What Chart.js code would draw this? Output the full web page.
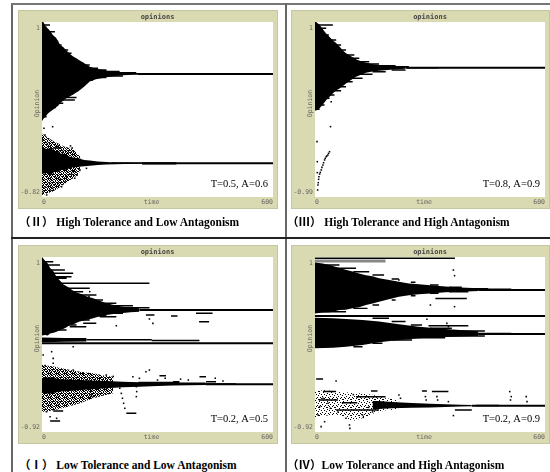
<!DOCTYPE html>
<html>
<head>
<meta charset="utf-8">
<script src="https://cdn.jsdelivr.net/npm/chart.js@4.4.1/dist/chart.umd.min.js"></script>
<style>
  body { margin: 0; background: #fff; width: 550px; height: 472px; position: relative; overflow: hidden; }
  .rule { position: absolute; background: #666; }
  canvas.plot { position: absolute; background: #dadab2; outline: 1px solid #c6c6a2; }
  .cap { position: absolute; font: bold 11.5px "Times New Roman", "Liberation Serif", "Noto Sans CJK SC", serif; white-space: nowrap; color: #000; line-height: 14px; }
</style>
</head>
<body>
<div class="rule" style="left:11px;top:3px;width:2px;height:469px;"></div>
<div class="rule" style="left:11px;top:3px;width:539px;height:2px;background:#777"></div>
<div class="rule" style="left:285px;top:3px;width:2px;height:469px;"></div>
<div class="rule" style="left:11px;top:237px;width:539px;height:2px;background:#222"></div>

<canvas class="plot" id="p2" width="258" height="197" style="left:19px;top:11px"></canvas>
<canvas class="plot" id="p3" width="257" height="197" style="left:292px;top:11px"></canvas>
<canvas class="plot" id="p1" width="258" height="197" style="left:19px;top:246px"></canvas>
<canvas class="plot" id="p4" width="257" height="197" style="left:292px;top:246px"></canvas>

<div class="cap" style="left:19px;top:215px">（Ⅱ） High Tolerance and Low Antagonism</div>
<div class="cap" style="left:287px;top:215px">（Ⅲ） High Tolerance and High Antagonism</div>
<div class="cap" style="left:19px;top:458px">（Ⅰ） Low Tolerance and Low Antagonism</div>
<div class="cap" style="left:287px;top:458px">（Ⅳ）Low Tolerance and High Antagonism</div>

<script>
// time axis shared by all four plots
const timeRange = [0, 600];

// ---------- (II) T=0.5, A=0.6 ----------
const iiRange = [-0.82, 1];
const iiNote = 'T=0.5, A=0.6';
const iiUpT  = [0, 5, 10, 16, 22, 29, 36, 42, 47, 55, 64, 72, 81, 90, 98, 110, 124, 140, 167, 190, 210, 248];
const iiUpHi = [1.02, 0.99, 0.95, 0.93, 0.90, 0.86, 0.84, 0.80, 0.76, 0.74, 0.70, 0.67, 0.64, 0.62, 0.60, 0.57, 0.535, 0.515, 0.494, 0.483, 0.476, 0.465];
const iiUpLo = [-0.03, 0.0, 0.02, 0.05, 0.07, 0.09, 0.11, 0.13, 0.155, 0.18, 0.21, 0.225, 0.245, 0.27, 0.29, 0.33, 0.38, 0.405, 0.425, 0.438, 0.445, 0.453];
const iiLoT  = [0, 12, 22, 32, 39, 50, 60, 70, 81, 95, 110, 124, 145, 167, 190, 215, 260];
const iiLoHi = [-0.30, -0.32, -0.31, -0.34, -0.35, -0.37, -0.37, -0.40, -0.41, -0.42, -0.435, -0.44, -0.45, -0.455, -0.46, -0.462, -0.465];
const iiLoLo = [-0.58, -0.57, -0.59, -0.56, -0.56, -0.54, -0.54, -0.52, -0.51, -0.505, -0.50, -0.495, -0.488, -0.483, -0.479, -0.477, -0.474];
const iiSpT  = [0, 15, 30, 45, 60, 75, 90, 100];
const iiSpHi = [-0.16, -0.20, -0.24, -0.27, -0.30, -0.31, -0.36, -0.40];
const iiSpLo = [-0.80, -0.78, -0.76, -0.72, -0.68, -0.64, -0.60, -0.55];
const iiLineStart = [248, 260];
const iiLineV = [0.459, -0.470];
const iiDashT0 = [0, 0, 0, 0, 0, 0, 0, 0, 0, 20, 30, 50, 80, 100, 120, 150, 0, 0, 0, 0, 0, 0, 0, 40, 60, 70, 80, 100, 120, 29, 22, 60, 180, 260];
const iiDashT1 = [20.7, 12.1, 33.6, 29.3, 42.2, 50.9, 68.1, 76.7, 89.7, 106.9, 124.1, 145.7, 167.2, 201.7, 244.8, 331, 12.1, 16.4, 36.2, 55.2, 85.3, 89.7, 81, 94, 102.6, 106.9, 132.8, 167.2, 210.3, 51, 45, 100, 349, 349];
const iiDashV  = [0.969, 0.945, 0.899, 0.854, 0.796, 0.761, 0.709, 0.674, 0.612, 0.577, 0.553, 0.518, 0.501, 0.484, 0.473, 0.461, 0.015, 0.067, 0.112, 0.154, 0.189, 0.216, 0.251, 0.286, 0.327, 0.362, 0.397, 0.424, 0.438, -0.31, -0.35, -0.43, -0.466, -0.474];
const iiDotT = [5.2, 27.6, 7.8, 1.7, 13.8, 37.9, 74.1, 78.5, 81.0, 68.1, 55.2, 46.6, 5.2, 20.7, 10.3, 1.7, 16.4, 33.6, 48.3, 63.8, 76.7, 3.4, 19.0, 31.0, 42.2, 59.5, 7.8, 20.7, 1.7, 12.1, 27.6, 50.9, 70.7, 81.0, 89.7, 98.3, 106.9, 115.5, 91.4, 85.3];
const iiDotV = [-0.106, -0.089, -0.175, -0.227, -0.269, -0.289, -0.289, -0.310, -0.338, -0.366, -0.348, -0.383, -0.400, -0.435, -0.505, -0.557, -0.574, -0.609, -0.636, -0.609, -0.581, -0.643, -0.671, -0.695, -0.678, -0.661, -0.713, -0.747, -0.764, -0.799, -0.730, -0.713, -0.522, -0.557, -0.505, -0.539, -0.487, -0.522, -0.591, -0.626];

// ---------- (III) T=0.8, A=0.9 ----------
const iiiRange = [-0.99, 1];
const iiiNote = 'T=0.8, A=0.9';
const iiiT  = [0, 6, 12, 20, 29, 38, 47, 55, 64, 72, 81, 94, 107, 120, 133, 150, 167, 190, 210, 236];
const iiiHi = [1.01, 0.99, 0.97, 0.92, 0.87, 0.83, 0.79, 0.76, 0.72, 0.68, 0.645, 0.61, 0.575, 0.555, 0.537, 0.52, 0.511, 0.503, 0.496, 0.492];
const iiiLo = [-0.01, 0.0, 0.02, 0.06, 0.11, 0.15, 0.19, 0.22, 0.245, 0.27, 0.30, 0.34, 0.378, 0.40, 0.424, 0.436, 0.446, 0.455, 0.462, 0.469];
const iiiLineStart = [236];
const iiiLineV = [0.481];
const iiiDashT0 = [0, 0, 0, 0, 0, 20, 30, 50, 80, 100, 130, 180, 240, 0, 0, 10, 20, 40, 50, 60, 80, 110, 150, 200];
const iiiDashT1 = [46.6, 29.3, 36.2, 55.2, 68.1, 81, 102.6, 115.5, 141.4, 167.2, 210.3, 244.8, 322, 12.1, 25, 38, 50.9, 68.1, 81, 98.3, 124.1, 150, 184.5, 236.2];
const iiiDashV  = [0.966, 0.928, 0.852, 0.795, 0.738, 0.681, 0.625, 0.587, 0.549, 0.522, 0.503, 0.492, 0.481, 0.007, 0.056, 0.132, 0.17, 0.219, 0.264, 0.321, 0.359, 0.405, 0.435, 0.454];
const iiiDotT = [42.2, 40.5, 5.2, 6.0, 37.9, 35.3, 33.6, 31.0, 29.3, 26.7, 25.0, 22.4, 20.7, 18.1, 16.4, 13.8, 12.1, 10.3, 9.5, 8.6, 7.8, 6.9, 6.0];
const iiiDotV = [0.094, -0.19, -0.36, -0.588, -0.475, -0.494, -0.513, -0.524, -0.531, -0.55, -0.569, -0.60, -0.626, -0.653, -0.683, -0.71, -0.729, -0.76, -0.789, -0.827, -0.854, -0.91, -0.713];

// ---------- (I) T=0.2, A=0.5 ----------
const iRange = [-0.92, 1];
const iNote = 'T=0.2, A=0.5';
const iUpT  = [0, 8, 15, 21, 30, 38, 47, 55, 64, 72, 81, 90, 98, 115, 133, 150, 167, 190, 210, 230, 253];
const iUpHi = [1.0, 0.96, 0.93, 0.88, 0.84, 0.78, 0.74, 0.70, 0.68, 0.656, 0.63, 0.61, 0.60, 0.57, 0.547, 0.52, 0.492, 0.47, 0.455, 0.445, 0.437];
const iUpLo = [0.14, 0.145, 0.14, 0.16, 0.17, 0.18, 0.20, 0.21, 0.23, 0.254, 0.26, 0.28, 0.291, 0.31, 0.327, 0.35, 0.364, 0.377, 0.386, 0.393, 0.40];
const iBarT  = [0, 60, 116];
const iBarHi = [0.118, 0.112, 0.11];
const iBarLo = [0.066, 0.07, 0.072];
const iSpT  = [0, 30, 60, 98, 133, 160, 185];
const iSpHi = [-0.185, -0.20, -0.23, -0.258, -0.276, -0.30, -0.313];
const iSpLo = [-0.70, -0.68, -0.65, -0.605, -0.55, -0.52, -0.496];
const iLoT  = [0, 20, 47, 70, 98, 130, 167, 210, 253, 300, 340, 425];
const iLoHi = [-0.33, -0.32, -0.34, -0.345, -0.35, -0.355, -0.36, -0.37, -0.375, -0.38, -0.386, -0.39];
const iLoLo = [-0.49, -0.50, -0.477, -0.47, -0.459, -0.45, -0.44, -0.43, -0.423, -0.415, -0.411, -0.404];
const iLineStart = [253, 0, 425];
const iLineV = [0.418, 0.053, -0.397];
const iDashT0 = [0, 0, 0, 0, 116, 285, 150, 270, 335, 400, 408, 107, 72, 305, 340, 409, 426, 219, 21, 29, 0, 0, 0, 0, 60, 80, 100, 120, 150, 200, 150, 100, 80, 50, 40, 250, 300, 420];
const iDashT1 = [81, 279, 124, 64, 285, 409, 193, 292, 352, 443, 434, 141, 115, 322, 357, 426, 452, 245, 47, 55, 29.3, 46.6, 59.5, 76.7, 106.9, 141.4, 158.6, 193.1, 236.2, 279.3, 210.3, 167.2, 124.1, 89.7, 63.8, 340, 425, 504];
const iDashV  = [0.821, 0.711, 0.656, 0.766, 0.092, 0.085, 0.345, 0.364, 0.353, 0.382, 0.29, 0.272, 0.236, -0.302, -0.368, -0.313, -0.368, -0.715, -0.799, -0.69, 0.949, 0.912, 0.857, 0.784, 0.62, 0.583, 0.528, 0.492, 0.466, 0.444, 0.382, 0.356, 0.309, 0.254, 0.199, -0.378, -0.386, -0.393];
const iDotT = [193, 288, 279, 124, 122, 81, 25, 29, 124, 126, 128, 124, 133, 202, 206, 209, 212, 215, 245, 246, 245, 81, 107, 167, 236, 270, 279, 253, 3, 8, 29, 12, 21, 38, 150, 185, 300, 320, 360, 380, 450, 470];
const iDotV = [0.246, 0.272, 0.32, 0.62, 0.565, 0.016, -0.039, -0.112, -0.44, -0.477, -0.514, -0.55, -0.53, -0.44, -0.496, -0.55, -0.605, -0.66, -0.423, -0.477, -0.532, -0.24, -0.276, -0.295, -0.313, -0.258, -0.24, -0.331, -0.075, -0.19, -0.166, -0.697, -0.752, -0.77, -0.33, -0.31, -0.35, -0.33, -0.34, -0.35, -0.33, -0.36];

// ---------- (IV) T=0.2, A=0.9 ----------
const ivRange = [-0.92, 1];
const ivNote = 'T=0.2, A=0.9';
const ivAT  = [0, 20, 40, 64, 80, 98, 115, 133, 150, 167, 190, 219, 245, 271, 300, 340, 380, 426];
const ivAHi = [0.94, 0.93, 0.91, 0.88, 0.86, 0.84, 0.82, 0.80, 0.79, 0.766, 0.75, 0.729, 0.71, 0.70, 0.69, 0.675, 0.665, 0.656];
const ivALo = [0.38, 0.39, 0.393, 0.418, 0.42, 0.437, 0.45, 0.473, 0.49, 0.51, 0.535, 0.565, 0.58, 0.59, 0.60, 0.612, 0.62, 0.627];
const ivBT  = [0, 47, 81, 124, 167, 219, 271, 340, 426];
const ivBHi = [0.334, 0.327, 0.32, 0.309, 0.291, 0.261, 0.236, 0.21, 0.185];
const ivBLo = [-0.002, 0.005, 0.016, 0.034, 0.064, 0.089, 0.108, 0.122, 0.137];
const ivSpT  = [0, 30, 60, 98, 130, 150, 185, 220];
const ivSpHi = [-0.47, -0.46, -0.48, -0.49, -0.50, -0.51, -0.55, -0.57];
const ivSpLo = [-0.76, -0.74, -0.73, -0.80, -0.76, -0.72, -0.68, -0.67];
const ivLoT  = [150, 167, 200, 253, 300, 340, 380, 409];
const ivLoHi = [-0.58, -0.58, -0.59, -0.602, -0.61, -0.616, -0.62, -0.624];
const ivLoLo = [-0.67, -0.668, -0.66, -0.653, -0.65, -0.646, -0.64, -0.638];
const ivLineStart = [426, 0, 426, 409];
const ivLineV = [0.638, 0.353, 0.155, -0.631];
const ivDashT0 = [0, 314, 296, 3, 21, 146, 279, 305, 107, 55, 365, 70, 10, 0, 50, 100, 150, 200, 250, 300, 350, 400, 0, 100, 150, 200, 250, 300, 350, 150, 200, 250, 300, 350, 100, 150, 200, 250, 300, 350, 420, 420];
const ivDashT1 = [365, 396, 400, 21, 55, 163, 292, 348, 184, 167, 409, 110, 60, 63.8, 106.9, 141.4, 180.2, 219, 262.1, 322.4, 382.8, 451.7, 81, 137, 167.2, 210.3, 262.1, 322.4, 400, 193.1, 236.2, 279.3, 356.9, 443.1, 124.1, 175.9, 253.4, 339.7, 443.1, 512, 512, 480];
const ivDashV  = [0.985, 0.546, 0.247, -0.338, -0.477, -0.47, -0.47, -0.477, -0.532, -0.679, -0.679, -0.60, -0.57, 0.912, 0.876, 0.839, 0.802, 0.759, 0.722, 0.693, 0.667, 0.652, 0.40, 0.437, 0.473, 0.528, 0.576, 0.601, 0.62, 0.327, 0.291, 0.254, 0.217, 0.188, 0.016, 0.053, 0.089, 0.115, 0.133, 0.645, 0.160, -0.628];
const ivGreyT0 = [0];
const ivGreyT1 = [184];
const ivGreyV  = [0.955];
const ivWhiteT0 = [38, 46.6, 81, 81, 90, 38, 46.6, 133];
const ivWhiteT1 = [90, 90, 167, 150, 158, 107, 124, 193];
const ivWhiteV  = [0.80, 0.748, 0.565, 0.51, 0.455, 0.29, 0.236, 0.108];
const ivDotT = [361, 364, 364, 301, 292, 344, 348, 219, 55, 21, 34, 12, 8, 25, 16, 81, 90, 91, 124, 126, 150, 219, 223, 288, 290, 318, 320, 348, 508, 512, 510, 551, 553, 361, 100, 140, 60, 40];
const ivDotV = [0.857, 0.795, 0.455, 0.473, 0.316, 0.272, 0.236, 0.748, -0.36, -0.55, -0.605, -0.642, -0.733, -0.807, -0.861, -0.77, -0.843, -0.88, -0.733, -0.76, -0.70, -0.514, -0.55, -0.532, -0.569, -0.532, -0.569, -0.587, -0.477, -0.532, -0.569, -0.532, -0.587, -0.74, -0.51, -0.65, -0.70, -0.66];

// ---------- helpers ----------
function pts(ts, vs) {
  return ts.map((t, i) => ({ x: t, y: vs[i] }));
}

function band(ts, hi, lo, color) {
  return [
    { data: pts(ts, hi), fill: '+1', backgroundColor: color, borderColor: 'rgba(0,0,0,0)', borderWidth: 1 },
    { data: pts(ts, lo), fill: false, borderColor: 'rgba(0,0,0,0)', borderWidth: 1 }
  ];
}

function segs(t0s, t1s, vs, width, color) {
  const data = [];
  t0s.forEach((t, i) => {
    data.push({ x: t, y: vs[i] }, { x: t1s[i], y: vs[i] }, { x: t1s[i], y: null });
  });
  return { data, borderColor: color, borderWidth: width, spanGaps: false, fill: false };
}

function lines(starts, vs) {
  return segs(starts, starts.map(() => timeRange[1]), vs, 2, '#000');
}

function dots(ts, vs) {
  return { data: pts(ts, vs), showLine: false, pointRadius: 1.1, pointStyle: 'rect', pointBackgroundColor: '#000', pointBorderWidth: 0 };
}

// dotted texture for the noisy early clusters
function speckle(cells) {
  const tile = document.createElement('canvas');
  tile.width = 8;
  tile.height = 8;
  const c = tile.getContext('2d');
  c.fillStyle = '#000';
  cells.forEach(([x, y]) => c.fillRect(x, y, 1, 1));
  return c.createPattern(tile, 'repeat');
}
const denseCells = [[0,0],[3,0],[5,0],[1,1],[6,1],[2,2],[4,2],[7,2],[0,3],[3,3],[5,3],[1,4],[6,4],[7,4],[2,5],[4,5],[0,6],[3,6],[5,6],[7,6],[1,7],[4,7],[6,7],[2,0],[7,7],[4,4],[1,3],[6,5],[0,1],[2,3],[4,1],[6,3],[3,5],[5,7],[0,5],[7,0]];
const sparseCells = [[0,0],[5,0],[2,1],[7,2],[3,3],[0,4],[5,4],[2,5],[6,6],[1,7],[4,7],[3,1]];

// NetLogo-like plot frame: white plot area, corner labels, title, note
const netlogoFrame = {
  id: 'netlogo',
  beforeDraw(chart) {
    const { ctx, chartArea: a } = chart;
    ctx.save();
    ctx.fillStyle = '#fff';
    ctx.fillRect(a.left, a.top, a.right - a.left, a.bottom - a.top);
    ctx.restore();
  },
  afterDraw(chart, args, opts) {
    const { ctx, chartArea: a, scales } = chart;
    const mono = '"DejaVu Sans Mono", monospace';
    ctx.save();
    ctx.textBaseline = 'middle';

    ctx.fillStyle = '#444';
    ctx.font = 'bold 7px ' + mono;
    ctx.textAlign = 'center';
    ctx.fillText('opinions', (a.left + a.right) / 2, a.top - 5);

    ctx.fillStyle = '#666';
    ctx.font = '6.5px ' + mono;
    ctx.textAlign = 'right';
    ctx.fillText(String(scales.y.max), a.left - 2, a.top + 6.5);
    ctx.fillText(String(scales.y.min), a.left - 2, a.bottom - 4.5);

    ctx.textAlign = 'left';
    ctx.fillText(String(scales.x.min), a.left, a.bottom + 5.5);
    ctx.textAlign = 'right';
    ctx.fillText(String(scales.x.max), a.right, a.bottom + 5.5);
    ctx.textAlign = 'center';
    ctx.fillText('time', (a.left + a.right) / 2 - 6, a.bottom + 5.5);

    ctx.translate(a.left - 5, (a.top + a.bottom) / 2 - 6);
    ctx.rotate(-Math.PI / 2);
    ctx.fillText('Opinion', 0, 0);
    ctx.setTransform(1, 0, 0, 1, 0, 0);

    ctx.fillStyle = '#000';
    ctx.font = '10.5px "Liberation Serif", "Times New Roman", serif';
    ctx.textAlign = 'right';
    ctx.fillText(opts.note, a.right - 5, a.bottom - 13);
    ctx.restore();
  }
};

function makePlot(id, range, note, datasets) {
  const canvas = document.getElementById(id);
  return new Chart(canvas, {
    type: 'line',
    data: { datasets },
    options: {
      responsive: false,
      animation: false,
      devicePixelRatio: 1,
      layout: { padding: { left: 23, top: 11, right: canvas.width - 255, bottom: 11 } },
      elements: { point: { radius: 0 }, line: { tension: 0 } },
      scales: {
        x: { type: 'linear', min: timeRange[0], max: timeRange[1], display: false },
        y: { type: 'linear', min: range[0], max: range[1], display: false }
      },
      plugins: {
        legend: { display: false },
        tooltip: { enabled: false },
        netlogo: { note }
      }
    },
    plugins: [netlogoFrame]
  });
}

const dense = speckle(denseCells);
const sparse = speckle(sparseCells);

makePlot('p2', iiRange, iiNote, [
  ...band(iiSpT, iiSpHi, iiSpLo, dense),
  ...band(iiUpT, iiUpHi, iiUpLo, '#000'),
  ...band(iiLoT, iiLoHi, iiLoLo, '#000'),
  lines(iiLineStart, iiLineV),
  segs(iiDashT0, iiDashT1, iiDashV, 1.5, '#000'),
  dots(iiDotT, iiDotV)
]);

makePlot('p3', iiiRange, iiiNote, [
  ...band(iiiT, iiiHi, iiiLo, '#000'),
  lines(iiiLineStart, iiiLineV),
  segs(iiiDashT0, iiiDashT1, iiiDashV, 1.5, '#000'),
  dots(iiiDotT, iiiDotV)
]);

makePlot('p1', iRange, iNote, [
  ...band(iSpT, iSpHi, iSpLo, dense),
  ...band(iUpT, iUpHi, iUpLo, '#000'),
  ...band(iBarT, iBarHi, iBarLo, '#000'),
  ...band(iLoT, iLoHi, iLoLo, '#000'),
  lines(iLineStart, iLineV),
  segs(iDashT0, iDashT1, iDashV, 1.5, '#000'),
  dots(iDotT, iDotV)
]);

makePlot('p4', ivRange, ivNote, [
  ...band(ivSpT, ivSpHi, ivSpLo, sparse),
  ...band(ivAT, ivAHi, ivALo, '#000'),
  ...band(ivBT, ivBHi, ivBLo, '#000'),
  ...band(ivLoT, ivLoHi, ivLoLo, '#000'),
  segs(ivWhiteT0, ivWhiteT1, ivWhiteV, 1.5, '#fff'),
  segs(ivGreyT0, ivGreyT1, ivGreyV, 3, '#888'),
  lines(ivLineStart, ivLineV),
  segs(ivDashT0, ivDashT1, ivDashV, 1.5, '#000'),
  dots(ivDotT, ivDotV)
]);
</script>
</body>
</html>
